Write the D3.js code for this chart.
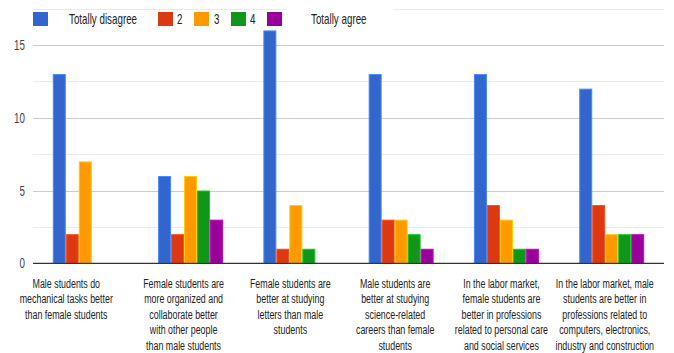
<!DOCTYPE html>
<html><head><meta charset="utf-8">
<script src="https://cdn.jsdelivr.net/npm/d3@7"></script>
<style>
html,body{margin:0;padding:0;background:#fff;}
svg{display:block;}
text{font-family:"Liberation Sans",Arial,sans-serif;}
</style></head>
<body>
<svg id="chart" width="674" height="353"></svg>
<script>
const categories = [
  ["Male students do","mechanical tasks better","than female students"],
  ["Female students are","more organized and","collaborate better","with other people","than male students"],
  ["Female students are","better at studying","letters than male","students"],
  ["Male students are","better at studying","science-related","careers than female","students"],
  ["In the labor market,","female students are","better in professions","related to personal care","and social services"],
  ["In the labor market, male","students are better in","professions related to","computers, electronics,","industry and construction"]
];
const seriesNames = ["Totally disagree","2","3","4","Totally agree"];
const totallyDisagree = [13, 6, 16, 13, 13, 12];
const level2 = [2, 2, 1, 3, 4, 4];
const level3 = [7, 6, 4, 3, 3, 2];
const level4 = [0, 5, 1, 2, 1, 2];
const totallyAgree = [0, 3, 0, 1, 1, 2];
const yTicks = [0, 5, 10, 15];
const yGrid = [2.5, 5, 7.5, 10, 12.5, 15, 17.5];

const colors = ["#3366cc","#dc3912","#ff9900","#109618","#990099"];
const seriesValues = [totallyDisagree, level2, level3, level4, totallyAgree];

const svg = d3.select("#chart");
const plotLeft = 33, plotRight = 664, plotBase = 263.3, plotTop = 8.6;

const x = d3.scaleBand().domain(d3.range(categories.length)).range([plotLeft, plotRight])
  .paddingInner(0.383).paddingOuter(0.188);
const xs = d3.scaleBand().domain(d3.range(seriesNames.length)).range([0, x.bandwidth()]).padding(0);
const y = d3.scaleLinear().domain([0, 17.5]).range([plotBase, plotTop]);

// gridlines
svg.append("g").selectAll("line").data(yGrid).join("line")
  .attr("x1", plotLeft).attr("x2", plotRight)
  .attr("y1", d => Math.round(y(d)) + 0.5).attr("y2", d => Math.round(y(d)) + 0.5)
  .attr("stroke", d => d % 5 === 0 ? "#cccccc" : "#ebebeb")
  .attr("stroke-width", 1);

// y tick labels
svg.append("g").selectAll("text").data(yTicks).join("text")
  .attr("transform", d => `translate(25,${y(d) + 5}) scale(0.7,1)`)
  .attr("text-anchor", "end")
  .attr("font-size", 14)
  .attr("fill", "#444")
  .text(d => d);

// bars
const groups = svg.append("g").selectAll("g").data(categories).join("g")
  .attr("transform", (d, i) => `translate(${x(i)},0)`);
groups.selectAll("rect")
  .data((d, i) => seriesValues.map((s, k) => ({k, v: s[i]})).filter(e => e.v > 0))
  .join("rect")
  .attr("x", e => xs(e.k) + 0.5)
  .attr("width", xs.bandwidth() - 1)
  .attr("y", e => y(e.v) + 0.5)
  .attr("height", e => y(0) - y(e.v) - 0.5)
  .attr("fill", e => colors[e.k])
  .attr("stroke", e => d3.color(colors[e.k]).brighter(0.8))
  .attr("stroke-width", 1);

// baseline
svg.append("line").attr("x1", plotLeft).attr("x2", plotRight)
  .attr("y1", plotBase).attr("y2", plotBase)
  .attr("stroke", "#333").attr("stroke-width", 1.3);

// category labels
const labelNudge = [-19, -7, -5.5, -6, -5, -7];
svg.append("g").selectAll("text").data(categories).join("text")
  .attr("text-anchor", "middle")
  .attr("font-size", 12.5)
  .attr("fill", "#222")
  .attr("transform", (d, i) => `translate(${x(i) + x.bandwidth() / 2 + labelNudge[i]},288) scale(0.71,1)`)
  .each(function(lines) {
    const t = d3.select(this);
    lines.forEach((ln, j) => {
      t.append("tspan").attr("x", 0).attr("dy", j === 0 ? 0 : 15.5).text(ln);
    });
  });

// legend
const legendBoxX = [33, 158, 194, 231, 267];
const legendTextX = [69, 177, 214, 250, 311];
svg.append("rect").attr("x", 285).attr("y", 3).attr("width", 108).attr("height", 10).attr("fill", "#fff");
const lg = svg.append("g");
seriesNames.forEach((name, k) => {
  lg.append("rect").attr("x", legendBoxX[k]).attr("y", 12).attr("width", 15).attr("height", 14)
    .attr("fill", colors[k]);
  lg.append("text").attr("transform", `translate(${legendTextX[k]},24) scale(0.7,1)`)
    .attr("font-size", 14).attr("fill", "#222").text(name);
});
</script>
</body></html>
